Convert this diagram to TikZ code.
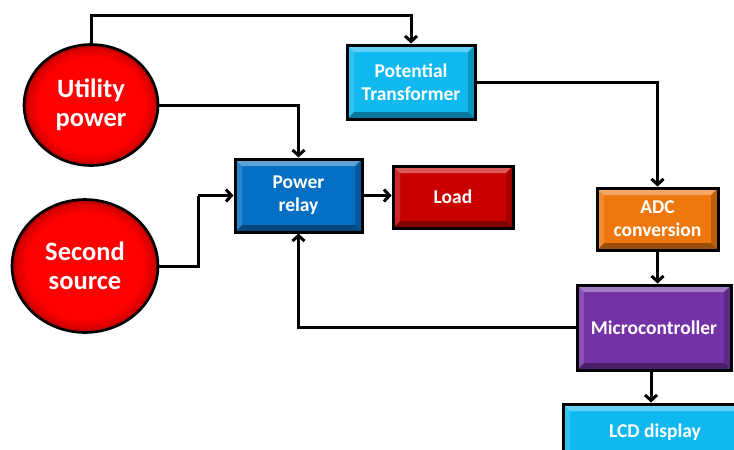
\documentclass[tikz,border=0pt]{standalone}
\usepackage{fontspec}
\setmainfont{Carlito}
\usetikzlibrary{arrows.meta,shapes.geometric}

\definecolor{srcred}{RGB}{255,0,0}
\definecolor{ptcyan}{RGB}{15,185,240}
\definecolor{relayblue}{RGB}{5,112,195}
\definecolor{loadred}{RGB}{200,0,0}
\definecolor{adcorange}{RGB}{238,120,14}
\definecolor{mcupurple}{RGB}{115,50,165}

% red disc with a darker rim
\pgfdeclareradialshading{rimshade}{\pgfpoint{0bp}{0bp}}{%
  color(0bp)=(srcred); color(20bp)=(srcred); color(23.5bp)=(srcred!85!black);
  color(25bp)=(srcred!60!black); color(50bp)=(srcred!60!black)}

\tikzset{
  source/.style={ellipse, draw=black, line width=2.6pt, shading=rimshade,
    text=white, font=\fontsize{26.5}{29}\selectfont\bfseries, align=center, inner sep=0pt},
  bevel/.style={rectangle, draw=black, line width=3pt, fill=#1, inner sep=0pt,
    text=white, font=\fontsize{19.5}{23}\selectfont\bfseries, align=center,
    path picture={
      \def\bb{path picture bounding box}
      \fill[white, opacity=.35] (\bb.north west) -- (\bb.north east)
        -- ([xshift=-7pt,yshift=-7pt]\bb.north east) -- ([xshift=7pt,yshift=-7pt]\bb.north west) -- cycle;
      \fill[black, opacity=.35] (\bb.south west) -- (\bb.south east)
        -- ([xshift=-7pt,yshift=7pt]\bb.south east) -- ([xshift=7pt,yshift=7pt]\bb.south west) -- cycle;
      \fill[white, opacity=.15] (\bb.north west) -- ([xshift=7pt,yshift=-7pt]\bb.north west)
        -- ([xshift=7pt,yshift=7pt]\bb.south west) -- (\bb.south west) -- cycle;
      \fill[black, opacity=.2] (\bb.north east) -- ([xshift=-7pt,yshift=-7pt]\bb.north east)
        -- ([xshift=-7pt,yshift=7pt]\bb.south east) -- (\bb.south east) -- cycle;
    }},
  link/.style={draw=black, line width=3pt, -{Straight Barb[length=5.5pt,width=12pt,line width=3pt]}},
  plainlink/.style={draw=black, line width=3pt},
}

\begin{document}
\begin{tikzpicture}[x=1pt, y=-1pt]
\useasboundingbox (0,0) rectangle (734,450);
\clip (0,0) rectangle (734,450);

% sources
\node[source, minimum width=134pt, minimum height=121pt] (U) at (91,105) {Utility\\power};
\node[source, minimum width=146pt, minimum height=133pt] (S) at (85,266) {Second\\source};

% blocks
\node[bevel=ptcyan, minimum width=128pt, minimum height=74pt] (PT) at (411,82) {Potential\\Transformer};
\node[bevel=relayblue, minimum width=127pt, minimum height=73pt] (R) at (298.5,195.5) {Power\\relay};
\node[bevel=loadred, minimum width=120pt, minimum height=62pt] (L) at (453,197) {Load};
\node[bevel=adcorange, minimum width=121pt, minimum height=62pt] (A) at (657.5,219) {ADC\\conversion};
\node[bevel=mcupurple, minimum width=154pt, minimum height=85pt] (M) at (654,327.5) {Microcontroller};
\node[bevel=ptcyan, minimum width=184pt, minimum height=54pt, text depth=0pt] (LCD) at (655,431) {LCD display};

% routing helpers
\coordinate (topy) at (0,15);
\coordinate (bend) at (198,195.5);

% connectors
\draw[link] (U.north) -- (U.north |- topy) -| (PT.north);
\draw[link] (U.east) -| (R.north);
\draw[plainlink] (S.east) -| (bend);
\draw[link] (bend) -- (R.west);
\draw[link] (R.east) -- (R.east -| L.west);
\draw[link] (PT.east) -| (A.north);
\draw[link] (A.south) -- (A.south |- M.north);
\draw[link] (M.west) -| (R.south);
\draw[link] ([xshift=-3pt]M.south) -- ([xshift=-3pt]M.south |- LCD.north);
\end{tikzpicture}
\end{document}
